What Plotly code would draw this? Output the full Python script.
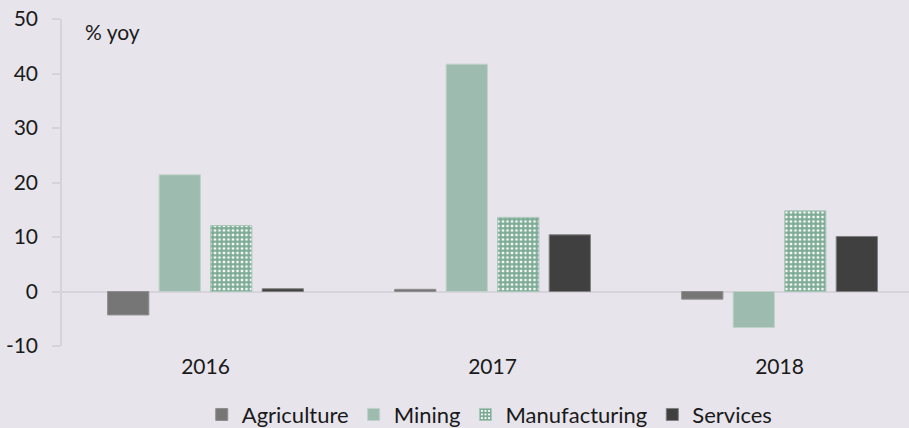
import plotly.graph_objects as go

# Annual growth by sector, % year on year
years = ["2016", "2017", "2018"]
agriculture = [-4.3, 0.4, -1.4]
mining = [21.4, 41.7, -6.6]
manufacturing = [12.1, 13.6, 14.8]
services = [0.5, 10.4, 10.1]

y_ticks = [-10, 0, 10, 20, 30, 40, 50]
y_tick_text = ["-10", "0", "10", "20", "30", "40", "50"]

BG = "#E7E4EB"
AXIS = "#D6D4DA"
FONT = "Lato"
TEXT = "#1A1A1A"

fig = go.Figure()

fig.add_trace(go.Bar(
    name="Agriculture", x=years, y=agriculture,
    marker=dict(color="#767676", line=dict(color="#8E8E8E", width=1)),
))
fig.add_trace(go.Bar(
    name="Mining", x=years, y=mining,
    marker=dict(color="#9DBBAE", line=dict(color="#BFD1C9", width=1)),
))
fig.add_trace(go.Bar(
    name="Manufacturing", x=years, y=manufacturing,
    marker=dict(
        color="#7CAA94",
        line=dict(color="#A9C6B8", width=1),
        pattern=dict(shape="+", fgcolor="#7CAA94", bgcolor="#FFFFFF",
                     size=4.5, solidity=0.72, fillmode="replace"),
    ),
))
fig.add_trace(go.Bar(
    name="Services", x=years, y=services,
    marker=dict(color="#404040", line=dict(color="#7F7F7F", width=1)),
))

fig.update_layout(
    width=909, height=428,
    margin=dict(l=62, r=0, t=19, b=82, autoexpand=False),
    paper_bgcolor=BG, plot_bgcolor=BG,
    barmode="group", bargap=0.282, bargroupgap=0.2,
    font=dict(family=FONT, size=21, color=TEXT),
    showlegend=True,
    legend=dict(
        orientation="h", x=0.505, xanchor="center", y=-0.21, yanchor="middle",
        font=dict(family=FONT, size=22, color=TEXT),
        bgcolor="rgba(0,0,0,0)", traceorder="normal",
    ),
    xaxis=dict(
        type="category", range=[-0.5, 2.451],
        showline=False, showgrid=False, zeroline=False, ticks="",
        tickfont=dict(family=FONT, size=21, color=TEXT),
        ticklabelstandoff=6,
    ),
    yaxis=dict(
        range=[-10, 50], tickvals=y_ticks, ticktext=y_tick_text,
        showgrid=False,
        showline=True, linecolor=AXIS, linewidth=1.5,
        ticks="outside", ticklen=8, tickcolor=AXIS, tickwidth=1.5,
        zeroline=True, zerolinecolor=AXIS, zerolinewidth=2,
        tickfont=dict(family=FONT, size=21, color=TEXT),
        ticklabelstandoff=10,
    ),
    annotations=[dict(
        text="% yoy", xref="paper", yref="paper", x=0.025, y=0.962,
        xanchor="left", yanchor="middle", showarrow=False,
        font=dict(family=FONT, size=21, color=TEXT),
    )],
)

fig.write_html("out.html")
